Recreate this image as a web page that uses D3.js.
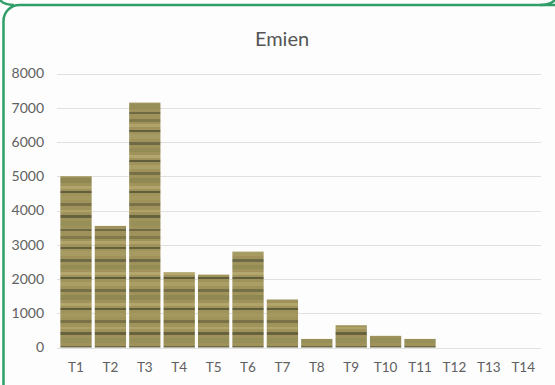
<!DOCTYPE html>
<html>
<head>
<meta charset="utf-8">
<script src="https://cdn.jsdelivr.net/npm/d3@7/dist/d3.min.js"></script>
<style>
  html, body { margin: 0; padding: 0; background: #ffffff; }
  svg { display: block; }
</style>
</head>
<body>
<svg id="chart" width="555" height="385"></svg>
<script>
// ---- data ----
const title = "Emien";
const categories = ["T1","T2","T3","T4","T5","T6","T7","T8","T9","T10","T11","T12","T13","T14"];
const values = [5000, 3550, 7150, 2200, 2130, 2800, 1400, 250, 650, 340, 250, 0, 0, 0];
const yTicks = [0, 1000, 2000, 3000, 4000, 5000, 6000, 7000, 8000];

// texture stripes for the bar fill (decorative): [offset, height, colour, opacity]
const stripes = [
  [2, 3, "#6b6840", 0.6], [7, 3, "#c2b67c", 0.5], [13, 2, "#4c4a2e", 0.7],
  [17, 5, "#b0a56a", 0.45], [25, 3, "#54533a", 0.65], [31, 4, "#8a8650", 0.5],
  [38, 3, "#c7bb82", 0.5], [43, 2, "#4a4a30", 0.75], [48, 4, "#b9ad72", 0.45],
  [55, 3, "#5a5838", 0.6], [61, 5, "#7d7a48", 0.45], [69, 3, "#c4b87e", 0.5],
  [74, 2, "#48472c", 0.7], [79, 4, "#a99f65", 0.45], [86, 3, "#5e5b38", 0.6],
  [93, 2, "#bfb379", 0.5], [98, 3, "#4f4d30", 0.7], [104, 5, "#8f8a55", 0.45],
  [112, 2, "#56543a", 0.65]
];

const W = 555, H = 385;
const svg = d3.select("#chart");
const defs = svg.append("defs");

const pat = defs.append("pattern")
  .attr("id", "wood")
  .attr("patternUnits", "userSpaceOnUse")
  .attr("width", 36).attr("height", 117);
pat.append("rect").attr("width", 36).attr("height", 117).attr("fill", "#9f935b");
pat.selectAll("rect.s").data(stripes).enter().append("rect")
  .attr("class", "s")
  .attr("x", 0).attr("y", d => d[0])
  .attr("width", 36).attr("height", d => d[1])
  .attr("fill", d => d[2]).attr("opacity", d => d[3]);

// background
svg.append("rect").attr("width", W).attr("height", H).attr("fill", "#fdfdfd");

// green card frame
svg.append("rect")
  .attr("x", 3.5).attr("y", 5).attr("width", 570).attr("height", 400)
  .attr("rx", 16).attr("ry", 16)
  .attr("fill", "none").attr("stroke", "#2f9e68").attr("stroke-width", 2.5);
svg.append("path")
  .attr("d", "M0,0 Q4,5 14,5")
  .attr("fill", "none").attr("stroke", "#2f9e68").attr("stroke-width", 2.5);
svg.append("path")
  .attr("d", "M540,5 Q550,5 555,0")
  .attr("fill", "none").attr("stroke", "#2f9e68").attr("stroke-width", 2.5);

// scales
const x = d3.scaleBand().domain(categories).range([58.8, 540.4])
  .paddingInner(0.09).paddingOuter(0.045);
const y = d3.scaleLinear().domain([0, 8000]).range([347.5, 73.5]);

// gridlines
svg.append("g").selectAll("line").data(yTicks).enter().append("line")
  .attr("x1", 57).attr("x2", 541)
  .attr("y1", d => Math.round(y(d)) + 0.5).attr("y2", d => Math.round(y(d)) + 0.5)
  .attr("stroke", "#e0e0e0").attr("stroke-width", 1);

// y axis labels
const yAxis = d3.axisLeft(y).tickValues(yTicks).tickFormat(d3.format("d")).tickSize(0).tickPadding(0);
const gy = svg.append("g").attr("transform", "translate(44,0)").call(yAxis);
gy.select(".domain").remove();
gy.selectAll("text")
  .attr("font-family", "Lato, 'Open Sans', sans-serif")
  .attr("font-size", 14).attr("fill", "#606060");

// x axis labels
const xAxis = d3.axisBottom(x).tickSize(0).tickPadding(0);
const gx = svg.append("g").attr("transform", "translate(0,362)").call(xAxis);
gx.select(".domain").remove();
gx.selectAll("text")
  .attr("font-family", "Lato, 'Open Sans', sans-serif")
  .attr("font-size", 13.5).attr("fill", "#606060");

// bars
svg.append("g").selectAll("rect").data(values).enter().append("rect")
  .attr("x", (d, i) => x(categories[i]))
  .attr("width", x.bandwidth())
  .attr("y", d => y(d))
  .attr("height", d => y(0) - y(d))
  .attr("fill", "url(#wood)");

// title
svg.append("text")
  .attr("x", 282).attr("y", 46)
  .attr("text-anchor", "middle")
  .attr("font-family", "Lato, 'Open Sans', sans-serif")
  .attr("font-size", 20).attr("fill", "#555555")
  .text(title);
</script>
</body>
</html>
